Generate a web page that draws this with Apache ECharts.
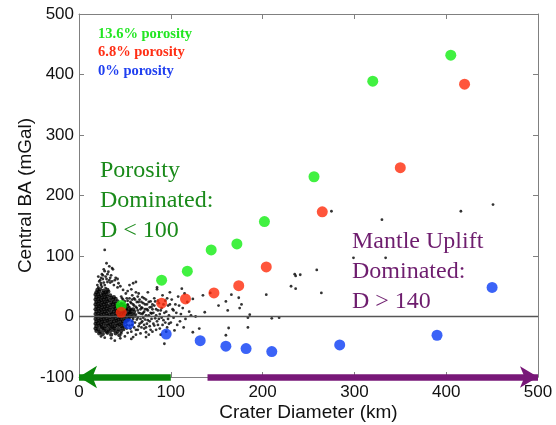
<!DOCTYPE html>
<html>
<head>
<meta charset="utf-8">
<script src="https://cdn.jsdelivr.net/npm/echarts@6/dist/echarts.min.js"></script>
<style>html,body{margin:0;padding:0;background:#fff}#c{width:556px;height:425px}</style>
</head>
<body>
<div id="c"></div>
<script>
// ---- data ----
const xTicks = [0, 100, 200, 300, 400, 500];
const yTicks = [-100, 0, 100, 200, 300, 400, 500];

// modelled central Bouguer anomaly for porosity cases
const porosity136X = [46, 90, 118, 144, 172, 202, 256, 320, 405];
const porosity136Y = [18, 60, 75, 110, 120, 157, 231, 389, 432];
const porosity68X = [46, 90, 116, 147, 174, 204, 265, 350, 420];
const porosity68Y = [7, 22, 29, 39, 51, 82, 173, 246, 384];
const porosity0X = [54, 95, 132, 160, 182, 210, 284, 390, 450];
const porosity0Y = [-12, -29, -40, -49, -53, -58, -47, -31, 48];

// observed craters [diameter km, central BA mGal] - dense core of small craters
const observedCore = [
 [22,-28],[26,-29],[31,-27],[35,-30],[40,-28],[44,-31],
 [19,-24],[23,-25],[27,-23],[30,-25],[34,-24],[38,-23],[42,-25],[46,-24],
 [18,-20],[21,-21],[25,-19],[28,-20],[32,-21],[35,-19],[39,-20],[43,-21],[47,-19],
 [19,-16],[22,-15],[25,-17],[29,-16],[32,-15],[36,-17],[39,-16],[42,-15],[46,-16],[50,-17],
 [18,-12],[21,-11],[24,-13],[27,-12],[31,-11],[34,-13],[37,-12],[41,-11],[44,-13],[48,-12],
 [19,-8],[22,-7],[25,-9],[28,-8],[31,-7],[35,-9],[38,-8],[41,-7],[45,-9],[48,-8],[52,-7],
 [18,-4],[21,-3],[24,-5],[27,-4],[30,-3],[33,-5],[37,-4],[40,-3],[43,-5],[46,-4],[50,-3],[54,-5],
 [19,0],[22,1],[25,-1],[28,0],[31,1],[34,-1],[37,0],[40,1],[44,-1],[47,0],[51,1],[55,-1],[58,0],
 [18,4],[21,5],[24,3],[27,4],[30,5],[33,3],[36,4],[40,5],[43,3],[46,4],[49,5],[53,3],[57,4],
 [19,8],[22,9],[25,7],[28,8],[31,9],[35,7],[38,8],[41,9],[44,7],[48,8],[52,9],[56,7],[60,8],
 [18,12],[21,13],[24,11],[27,12],[30,13],[33,11],[37,12],[40,13],[43,11],[47,12],[51,13],[55,11],[59,12],
 [19,16],[22,17],[25,15],[28,16],[31,17],[34,15],[38,16],[41,17],[45,15],[49,16],[53,17],
 [18,20],[21,21],[24,19],[27,20],[30,21],[34,19],[37,20],[40,21],[44,19],[48,20],
 [19,24],[22,25],[25,23],[28,24],[31,25],[35,23],[38,24],[42,25],
 [18,28],[21,29],[24,27],[27,28],[30,29],[33,27],[37,28],[40,29],
 [19,32],[22,33],[25,31],[28,32],[31,33],[35,31],[38,32],
 [18,36],[21,37],[24,35],[27,36],[30,37],[34,35],
 [19,40],[22,41],[26,39],[29,40],[32,41],
 [20,44],[23,45],[27,43],[31,44]
];
// observed craters - scattered ones
const observedSpread = [
 [21,48],[25,49],[29,47],
 [24,55],[28,52],[22,58],[31,57],[26,62],[33,60],[29,66],[35,68],[25,70],[32,74],[37,78],[33,83],[36,80],
 [28,110],[40,64],[43,55],[38,52],[45,50],[27,78],[30,88],[24,64],[36,58],
 [20,52],[23,60],[27,56],[30,62],[34,64],[21,66],[26,68],[31,70],[28,75],[34,56],[39,60],[42,62],[24,52],
 [59,55],[62,57],[55,52],
 [50,25],[53,20],[52,30],[55,15],[57,22],[58,35],[60,18],[61,28],[62,3],[63,-5],[64,10],[65,24],
 [66,-12],[67,5],[68,15],[69,32],[70,-2],[71,8],[72,20],[73,-18],[74,12],[75,40],[76,2],[77,-8],
 [78,25],[79,16],[80,-25],[81,6],[82,30],[83,-3],[84,12],[85,45],[86,-14],[87,22],[88,4],[89,-30],
 [90,14],[91,35],[92,-6],[93,-45],[94,26],[95,8],[96,-18],[97,18],[98,2],[99,40],[100,-10],[101,28],
 [102,12],[103,-2],[104,-23],[105,20],[106,6],[108,33],[110,-8],[112,46],[113,14],[115,38],[116,-4],
 [118,24],[120,8],[122,2],[124,-26],[124,29],[127,0],[131,-20],[135,35],[137,7],[143,39],[152,18],
 [160,25],[160,-31],[162,10],[163,-19],[166,36],[174,31],[175,14],[177,20],[184,-2],[184,-18],
 [186,3],[204,36],[210,-3],[218,-2],[85,48],
 [51,-10],[52,-20],[54,5],[55,-15],[56,10],[57,-25],[58,-8],[59,20],[60,-18],[61,0],[62,-30],[63,14],
 [64,-22],[65,38],[66,18],[67,-28],[68,-10],[69,4],[70,22],[71,-20],[72,-5],[73,28],[74,-12],[75,10],
 [76,-30],[77,15],[78,-22],[79,5],[80,20],[82,-15],[83,25],[85,-8],[86,10],[88,-20],[90,-2],[92,20],
 [95,-25],[96,30],[98,-12],[59,-34],[73,-34],[57,-37],[45,-36],[39,-40],[50,-33],[35,-36],[28,-35],
 [24,-33],[53,42],[48,44],[57,45],[62,40],[42,48],[46,-28],[49,-22],[53,-27],[52,12],[48,28],[46,33],
 [51,38],[55,30],
 [46,22],[47,30],[49,8],[50,-6],[51,18],[52,-14],[53,26],[54,-2],[55,6],[56,-20],[56,24],[57,12],
 [58,-14],[58,28],[59,-4],[60,4],[60,30],[61,-10],[62,16],[62,-22],[63,24],[64,-2],[64,33],[65,6],
 [65,-16],[66,28],[67,12],[67,-4],[68,24],[68,-18],[69,-8],[69,14],[70,6],[71,-14],[71,30],[72,12],
 [73,2],[73,-26],[74,20],[75,-6],[76,24],[77,-16],[78,6],[79,-4],[80,12],[81,-12],[82,18],[84,-22],
 [84,2],[86,26],[87,-4],[89,10],[91,-14],[93,6],[94,-10],[97,-4],[99,20],[103,10],[107,-14],[109,18],
 [111,4],[114,-18],
 [231,50],[236,46],[236,67],[241,69],[235,70],[259,77],[264,39],[275,174],[330,160],[416,174],
 [451,185],[299,97],[334,97]
];

const zeroLineY = 0;
const arrowY = -100;
const porosityArrow = [100, 0];   // D < 100
const upliftArrow = [140, 500];   // D > 140

// ---- chart ----
const chart = echarts.init(document.getElementById('c'), null, {renderer: 'canvas'});
const pairs = (xs, ys) => xs.map((x, i) => [x, ys[i]]);
const tickFont = {fontFamily: 'Liberation Sans', fontSize: 17, color: '#111'};
const nameFont = {fontFamily: 'Liberation Sans', fontSize: 19, color: '#111'};
const serif = '"Liberation Serif", "Times New Roman", serif';
const axisLine = {show: true, onZero: false, lineStyle: {color: '#808080', width: 1}};
const tick = {inside: true, length: 5, lineStyle: {color: '#808080'}};

const option = {
  animation: false,
  grid: {left: 79, right: 18, top: 14, bottom: 48, containLabel: false, outerBoundsMode: 'none'},
  xAxis: [
    {type: 'value', min: xTicks[0], max: xTicks[xTicks.length - 1], interval: 100,
     position: 'bottom',
     name: 'Crater Diameter (km)', nameLocation: 'middle', nameGap: 26, nameMoveOverlap: false,
     nameTextStyle: nameFont,
     axisLine: axisLine, axisTick: tick,
     axisLabel: Object.assign({margin: 7}, tickFont), splitLine: {show: false}},
    {type: 'value', min: xTicks[0], max: xTicks[xTicks.length - 1], interval: 100,
     position: 'top', axisLine: axisLine, axisTick: tick,
     axisLabel: {show: false}, splitLine: {show: false}}
  ],
  yAxis: [
    {type: 'value', min: yTicks[0], max: yTicks[yTicks.length - 1], interval: 100,
     position: 'left',
     name: 'Central BA (mGal)', nameLocation: 'middle', nameGap: 44, nameMoveOverlap: false,
     nameTextStyle: nameFont,
     axisLine: axisLine, axisTick: tick,
     axisLabel: Object.assign({margin: 5}, tickFont), splitLine: {show: false}},
    {type: 'value', min: yTicks[0], max: yTicks[yTicks.length - 1], interval: 100,
     position: 'right', axisLine: axisLine, axisTick: tick,
     axisLabel: {show: false}, splitLine: {show: false}}
  ],
  series: [
    {type: 'scatter', name: 'observed core', data: observedCore, symbol: 'circle', symbolSize: 4.2,
     itemStyle: {color: '#000'}, silent: true, z: 2,
     markLine: {
       silent: true, animation: false, label: {show: false},
       data: [
         [{coord: [xTicks[0], zeroLineY], symbol: 'none', lineStyle: {color: '#555', width: 1.3, type: 'solid'}},
          {coord: [xTicks[xTicks.length - 1], zeroLineY], symbol: 'none'}]
       ]
     }},
    {type: 'scatter', name: 'observed', data: observedSpread, symbol: 'circle', symbolSize: 2.8,
     itemStyle: {color: '#000'}, silent: true, z: 2},
    {type: 'scatter', name: '13.6% porosity', data: pairs(porosity136X, porosity136Y), symbolSize: 11,
     itemStyle: {color: '#12ee12'}, silent: true, z: 5},
    {type: 'scatter', name: '6.8% porosity', data: pairs(porosity68X, porosity68Y), symbolSize: 11,
     itemStyle: {color: '#ff2a0a'}, silent: true, z: 5},
    {type: 'scatter', name: '0% porosity', data: pairs(porosity0X, porosity0Y), symbolSize: 11,
     itemStyle: {color: '#0a3cf5'}, silent: true, z: 5},
    {type: 'scatter', name: 'arrows', data: [], z: 6,
     markLine: {
       silent: true, animation: false, label: {show: false}, z: 6,
       data: [
         [{coord: [porosityArrow[0], arrowY], symbol: 'none', lineStyle: {color: '#0a870a', width: 6.5, type: 'solid', opacity: 1}},
          {coord: [porosityArrow[1], arrowY], symbol: 'arrow', symbolSize: [17, 18]}],
         [{coord: [upliftArrow[0], arrowY], symbol: 'none', lineStyle: {color: '#781878', width: 6.5, type: 'solid', opacity: 1}},
          {coord: [upliftArrow[1], arrowY], symbol: 'arrow', symbolSize: [16, 18]}]
       ]
     }}
  ],
  graphic: [
    {type: 'text', x: 98, y: 34.5, style: {text: '13.6% porosity', font: 'bold 14.5px ' + serif, fill: '#22e622', verticalAlign: 'middle'}},
    {type: 'text', x: 98, y: 52, style: {text: '6.8% porosity', font: 'bold 14.5px ' + serif, fill: '#ff2e14', verticalAlign: 'middle'}},
    {type: 'text', x: 98, y: 71, style: {text: '0% porosity', font: 'bold 14.5px ' + serif, fill: '#1f3ff0', verticalAlign: 'middle'}},
    {type: 'text', x: 100, y: 171, style: {text: 'Porosity', font: '24px ' + serif, fill: '#1a8a1a', verticalAlign: 'middle'}},
    {type: 'text', x: 100, y: 201, style: {text: 'Dominated:', font: '24px ' + serif, fill: '#1a8a1a', verticalAlign: 'middle'}},
    {type: 'text', x: 100, y: 230.5, style: {text: 'D < 100', font: '24px ' + serif, fill: '#1a8a1a', verticalAlign: 'middle'}},
    {type: 'text', x: 352, y: 242, style: {text: 'Mantle Uplift', font: '24px ' + serif, fill: '#6e1d6e', verticalAlign: 'middle'}},
    {type: 'text', x: 352, y: 272, style: {text: 'Dominated:', font: '24px ' + serif, fill: '#6e1d6e', verticalAlign: 'middle'}},
    {type: 'text', x: 352, y: 301.5, style: {text: 'D > 140', font: '24px ' + serif, fill: '#6e1d6e', verticalAlign: 'middle'}}
  ]
};
chart.setOption(option);
</script>
</body>
</html>
